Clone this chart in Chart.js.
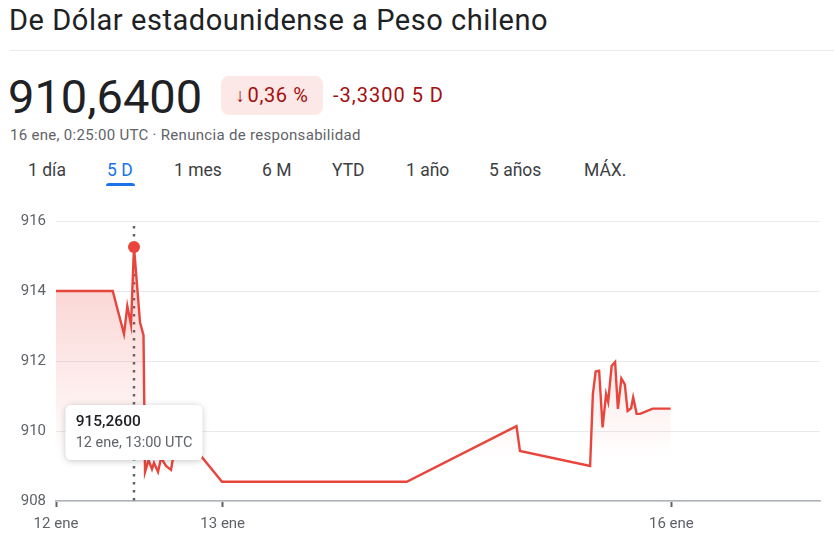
<!DOCTYPE html>
<html>
<head>
<meta charset="utf-8">
<script src="https://cdn.jsdelivr.net/npm/chart.js@4.4.1/dist/chart.umd.min.js"></script>
<style>
  html, body { margin: 0; padding: 0; background: #fff; }
  body { width: 834px; height: 548px; position: relative; overflow: hidden; font-family: Roboto, "Noto Sans", sans-serif; color: #202124; }
  .abs { position: absolute; white-space: nowrap; }
  #titulo { left: 9px; top: 1px; font-size: 29px; line-height: 38px; letter-spacing: 0.55px; color: #202124; }
  #sep { left: 10px; top: 50px; width: 824px; height: 1px; background: #e8eaed; }
  #precio { left: 8px; top: 70px; font-size: 47px; line-height: 54px; color: #202124; }
  #badge { left: 221px; top: 76px; width: 102px; height: 39px; border-radius: 8px; background: #fce8e6; color: #a50e0e; font-size: 20px; line-height: 39px; text-align: center; letter-spacing: 0.6px; }
  #badge .fl { font-size: 19px; margin-right: 2px; }
  #cambio { left: 333px; top: 76px; font-size: 20px; line-height: 39px; color: #a50e0e; letter-spacing: 1px; }
  #fecha { left: 10px; top: 126px; font-size: 15px; line-height: 18px; letter-spacing: 0.3px; color: #5f6368; }
  .tab { top: 159px; font-size: 17.5px; line-height: 22px; color: #3c4043; }
  .tab.on { color: #1a73e8; }
  #sub { left: 106px; top: 183px; width: 29px; height: 3px; background: #1a73e8; border-radius: 3px 3px 0 0; }
  #wrap { position: absolute; left: 0; top: 195px; width: 834px; height: 353px; }
</style>
</head>
<body>
<div class="abs" id="titulo">De Dólar estadounidense a Peso chileno</div>
<div class="abs" id="sep"></div>
<div class="abs" id="precio">910,6400</div>
<div class="abs" id="badge"><span class="fl">↓</span>0,36 %</div>
<div class="abs" id="cambio">-3,3300 5 D</div>
<div class="abs" id="fecha">16 ene, 0:25:00 UTC · Renuncia de responsabilidad</div>
<div class="abs tab" style="left:28px">1 día</div>
<div class="abs tab on" style="left:107px">5 D</div>
<div class="abs tab" style="left:174px">1 mes</div>
<div class="abs tab" style="left:262px">6 M</div>
<div class="abs tab" style="left:332px">YTD</div>
<div class="abs tab" style="left:406px">1 año</div>
<div class="abs tab" style="left:489px">5 años</div>
<div class="abs tab" style="left:584px">MÁX.</div>
<div class="abs" id="sub"></div>
<div id="wrap"><canvas id="graphique"></canvas></div>

<script>
// position sur l'axe (unites du graphique, pas des heures reelles)
var posX = [0, 8.17, 9.79, 10.27, 10.8, 11.23, 12.1, 12.6, 12.82, 13.32, 13.82, 14.11, 14.69, 15.12, 15.84, 16.56, 16.85, 17.57, 20.16, 23.9,
            50.5, 66.3, 66.8, 76.9, 77.3, 77.7, 78.2, 78.7, 79.2, 79.5, 80.0, 80.5, 80.9, 81.4, 81.9, 82.3, 82.8, 83.1, 83.6, 84.1, 85.9, 88.5];
var taux = [914.00, 914.00, 912.77, 913.57, 913.03, 915.26, 913.10, 912.74, 908.83, 909.17, 908.91, 909.09, 908.83, 909.23, 909.00, 908.89, 909.23, 909.54, 909.46, 908.55,
            908.55, 910.14, 909.43, 909.00, 911.06, 911.70, 911.72, 910.10, 911.06, 910.83, 911.86, 911.97, 910.63, 911.50, 911.33, 910.57, 910.65, 910.96, 910.49, 910.49, 910.64, 910.64];

var tickPos = [0, 24, 88.6];
var tickLabels = ['12 ene', '13 ene', '16 ene'];
var yTicks = [908, 910, 912, 914, 916];

var pointActif = 5; // le pic a 915,26
var labelActif = '12 ene, 13:00 UTC';

var rouge = '#e8453c';

var points = posX.map(function (x, i) { return { x: x, y: taux[i] }; });

// tooltip place sous le point, comme sur google
Chart.Tooltip.positioners.sousPoint = function (elements) {
    if (!elements.length) return false;
    var ys = this.chart.scales.y;
    return { x: elements[0].element.x, y: ys.getPixelForValue(910.74) };
};

var lignePointillee = {
    id: 'lignePointillee',
    beforeDatasetsDraw: function (chart) {
        var meta = chart.getDatasetMeta(0);
        var el = meta.data[pointActif];
        if (!el) return;
        var ctx = chart.ctx;
        ctx.save();
        ctx.strokeStyle = '#5f6368';
        ctx.lineWidth = 2.5;
        ctx.setLineDash([2.5, 5.5]);
        ctx.beginPath();
        ctx.moveTo(Math.round(el.x), chart.chartArea.top + 5);
        ctx.lineTo(Math.round(el.x), chart.chartArea.bottom);
        ctx.stroke();
        ctx.restore();
    },
    beforeTooltipDraw: function (chart, args) {
        var t = args.tooltip;
        if (!t.opacity) return;
        var ctx = chart.ctx;
        ctx.save();
        ctx.shadowColor = 'rgba(60,64,67,0.3)';
        ctx.shadowBlur = 6;
        ctx.shadowOffsetY = 1;
        ctx.fillStyle = '#fff';
        ctx.beginPath();
        ctx.roundRect(t.x, t.y, t.width, t.height, 6);
        ctx.fill();
        ctx.restore();
    }
};

var ctx = document.getElementById('graphique').getContext('2d');
var chart = new Chart(ctx, {
    type: 'line',
    data: {
        datasets: [
            {
                data: points,
                borderColor: rouge,
                borderWidth: 2.4,
                tension: 0,
                fill: 'start',
                backgroundColor: function (context) {
                    var area = context.chart.chartArea;
                    if (!area) return 'rgba(232,69,60,0.1)';
                    var g = context.chart.ctx.createLinearGradient(0, area.top, 0, area.bottom);
                    g.addColorStop(0, 'rgba(232,69,60,0.30)');
                    g.addColorStop(0.85, 'rgba(232,69,60,0)');
                    g.addColorStop(1, 'rgba(232,69,60,0)');
                    return g;
                },
                pointRadius: function (c) { return c.dataIndex === pointActif ? 6 : 0; },
                pointHoverRadius: function (c) { return c.dataIndex === pointActif ? 6 : 0; },
                pointBackgroundColor: rouge,
                pointHoverBackgroundColor: rouge,
                pointBorderWidth: 0,
                pointHoverBorderWidth: 0
            }
        ]
    },
    options: {
        responsive: true,
        maintainAspectRatio: false,
        animation: false,
        events: [],
        layout: { padding: { top: 26, right: 14, left: 0, bottom: 0 } },
        plugins: {
            legend: { display: false },
            tooltip: {
                enabled: true,
                position: 'sousPoint',
                xAlign: 'center',
                yAlign: 'top',
                caretSize: 0,
                caretPadding: 0,
                cornerRadius: 6,
                backgroundColor: '#ffffff',
                titleColor: '#202124',
                bodyColor: '#5f6368',
                titleFont: { family: 'Roboto', size: 15.5, weight: '500' },
                bodyFont: { family: 'Roboto', size: 14.5 },
                titleMarginBottom: 3,
                padding: { top: 8, bottom: 8, left: 10, right: 10 },
                displayColors: false,
                callbacks: {
                    title: function (items) { return items[0].parsed.y.toFixed(4).replace('.', ','); },
                    label: function () { return labelActif; }
                }
            }
        },
        scales: {
            x: {
                type: 'linear',
                min: 0,
                max: 110,
                afterBuildTicks: function (scale) {
                    scale.ticks = tickPos.map(function (v) { return { value: v }; });
                },
                afterFit: function (scale) { scale.height = 47; },
                ticks: {
                    autoSkip: false,
                    maxRotation: 0,
                    padding: 8,
                    color: '#5f6368',
                    font: { family: 'Roboto', size: 15 },
                    callback: function (v) {
                        var i = tickPos.indexOf(v);
                        return i >= 0 ? tickLabels[i] : '';
                    }
                },
                grid: { drawOnChartArea: false, drawTicks: true, tickLength: 6, tickWidth: 2, tickColor: '#5f6368' },
                border: { display: true, color: '#b0b3b8', width: 1.5 }
            },
            y: {
                min: 908,
                max: 916,
                afterBuildTicks: function (scale) {
                    scale.ticks = yTicks.map(function (v) { return { value: v }; });
                },
                afterFit: function (scale) { scale.width = 56; },
                ticks: {
                    padding: 10,
                    color: '#5f6368',
                    font: { family: 'Roboto', size: 15 }
                },
                grid: { color: '#e8eaed', drawTicks: false },
                border: { display: false }
            }
        }
    },
    plugins: [lignePointillee]
});

chart.setActiveElements([{ datasetIndex: 0, index: pointActif }]);
chart.tooltip.setActiveElements([{ datasetIndex: 0, index: pointActif }], { x: 0, y: 0 });
chart.update();
</script>
</body>
</html>
